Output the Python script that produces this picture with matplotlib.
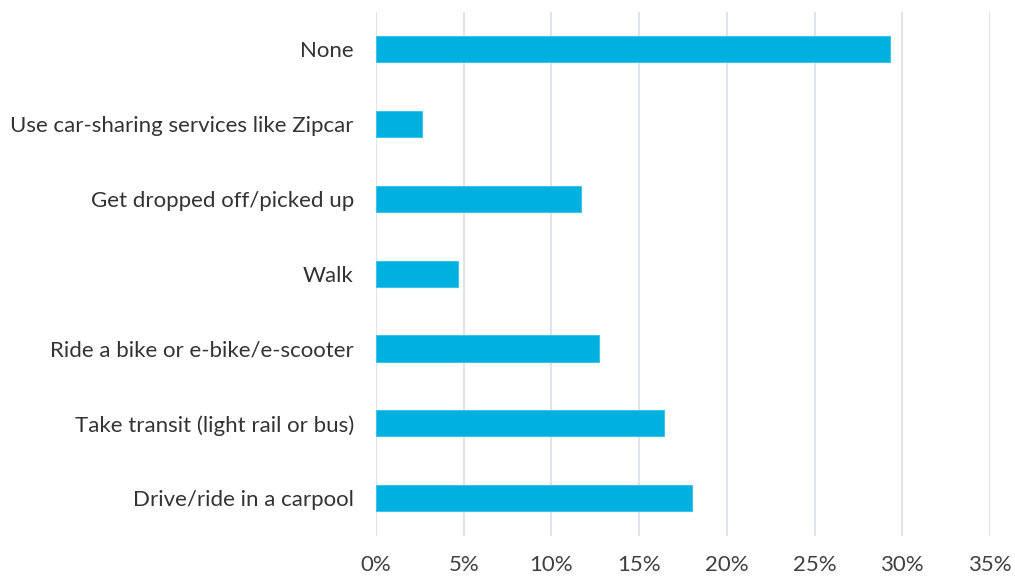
import matplotlib
matplotlib.use("Agg")
import matplotlib.pyplot as plt
from matplotlib.ticker import FuncFormatter, MultipleLocator

categories = ["None", "Use car-sharing services like Zipcar", "Get dropped off/picked up",
              "Walk", "Ride a bike or e-bike/e-scooter", "Take transit (light rail or bus)",
              "Drive/ride in a carpool"]
values = [29.3, 2.6, 11.7, 4.7, 12.7, 16.4, 18.0]

plt.rcParams['font.family'] = ['Lato', 'DejaVu Sans']

fig = plt.figure(figsize=(10.15, 5.8), dpi=100)
ax = fig.add_axes([376/1015, 1-535.6/580, (990-376)/1015, (535.6-11.6)/580])

y = list(range(len(categories)))
ax.barh(y, values, height=0.35, color="#00B0DE", edgecolor="#3CC4EC", linewidth=0.8, zorder=3)
ax.set_ylim(len(categories)-0.5, -0.5)
ax.set_yticks(y)
ax.set_yticklabels(categories, fontsize=16, color="#333333")
ax.set_xlim(0, 35)
ax.xaxis.set_major_locator(MultipleLocator(5))
ax.xaxis.set_major_formatter(FuncFormatter(lambda v, p: f"{v:.0f}%"))
ax.tick_params(axis='x', labelsize=16, labelcolor="#404040", length=0, pad=14)
ax.tick_params(axis='y', length=0, pad=16)
ax.grid(axis='x', color="#DADFE6", linewidth=1.2, zorder=0)
for s in ax.spines.values():
    s.set_visible(False)

fig.savefig("out.png", dpi=100)
